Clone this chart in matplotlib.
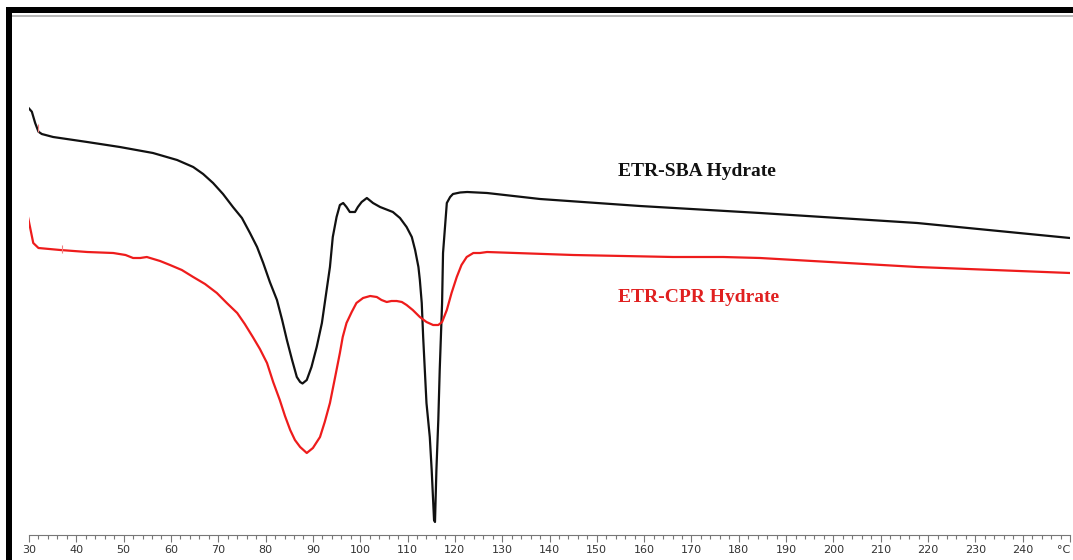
import matplotlib
matplotlib.use('Agg')
import matplotlib.pyplot as plt
from matplotlib.patches import Rectangle
from matplotlib.ticker import MultipleLocator

# DSC curves, temperature in °C, heat flow in arbitrary units (endo down)
sba_temp = [29.85, 30.6, 31.3, 32.0, 32.7, 35.1, 42.3, 49.2, 56.2, 61.3,
            64.7, 66.8, 68.9, 71.0, 73.1, 75.0, 76.7, 78.2, 79.5, 80.9,
            82.4, 83.5, 84.5, 85.6, 86.6, 87.3, 87.8, 88.7, 89.7, 90.8,
            91.9, 92.9, 93.6, 94.2, 95.0, 95.7, 96.4, 97.1, 97.8, 98.9,
            99.5, 100.3, 101.4, 102.7, 104.2, 106.9, 108.4, 109.8, 110.9, 111.6,
            112.3, 112.6, 113.0, 113.3, 114.0, 114.7, 115.1, 115.6, 115.8, 116.1,
            116.5, 116.8, 117.3, 117.5, 118.3, 119.0, 119.6, 121.1, 122.6, 126.8,
            138.0, 159.1, 184.5, 217.7, 250.0]
sba_hf = [-1.077, -1.117, -1.23, -1.317, -1.34, -1.37, -1.42, -1.47, -1.53, -1.60,
          -1.67, -1.74, -1.83, -1.94, -2.07, -2.18, -2.33, -2.47, -2.63, -2.82,
          -3.00, -3.20, -3.40, -3.60, -3.77, -3.82, -3.835, -3.80, -3.67, -3.47,
          -3.23, -2.90, -2.67, -2.37, -2.17, -2.05, -2.03, -2.07, -2.12, -2.12,
          -2.07, -2.02, -1.98, -2.03, -2.07, -2.12, -2.18, -2.27, -2.37, -2.50,
          -2.67, -2.80, -3.03, -3.37, -4.03, -4.37, -4.70, -5.20, -5.22, -4.70,
          -4.20, -3.70, -3.03, -2.53, -2.03, -1.97, -1.94, -1.925, -1.92, -1.93,
          -1.99, -2.06, -2.13, -2.23, -2.38]

cpr_temp = [29.7, 30.2, 30.9, 32.0, 36.6, 42.3, 47.8, 50.4, 52.0, 53.5,
            54.9, 57.7, 59.8, 62.3, 64.7, 67.2, 69.7, 71.8, 74.0, 75.6,
            77.3, 78.8, 80.3, 81.6, 83.0, 84.1, 85.2, 86.2, 87.3, 88.7,
            90.0, 91.5, 92.5, 93.6, 94.7, 95.7, 96.3, 97.1, 98.2, 99.2,
            100.6, 102.1, 103.5, 104.5, 105.6, 106.6, 107.7, 108.8, 109.8, 111.1,
            112.6, 114.0, 115.4, 116.5, 117.3, 118.3, 119.3, 120.4, 121.4, 122.5,
            123.9, 125.3, 126.8, 145.0, 166.1, 176.7, 184.5, 217.7, 250.0]
cpr_hf = [-2.15, -2.267, -2.43, -2.48, -2.50, -2.52, -2.53, -2.55, -2.58, -2.58,
          -2.57, -2.61, -2.65, -2.70, -2.77, -2.84, -2.93, -3.03, -3.13, -3.24,
          -3.37, -3.49, -3.63, -3.82, -4.00, -4.16, -4.30, -4.40, -4.47, -4.53,
          -4.48, -4.37, -4.22, -4.03, -3.77, -3.53, -3.37, -3.23, -3.12, -3.03,
          -2.98, -2.96, -2.97, -3.00, -3.02, -3.01, -3.01, -3.02, -3.05, -3.10,
          -3.17, -3.22, -3.25, -3.25, -3.22, -3.10, -2.93, -2.77, -2.65, -2.57,
          -2.53, -2.53, -2.52, -2.55, -2.57, -2.57, -2.58, -2.67, -2.73]

# small red onset markers drawn by the instrument software
mark_temp = [29.6, 31.9, 29.6, 36.9]
mark_hf = [-1.07, -1.28, -2.13, -2.49]

tick_vals = list(range(30, 251, 10))
tick_text = [str(t) for t in range(30, 241, 10)] + ['°C']

fig = plt.figure(figsize=(10.73, 5.60), dpi=100)
ax = fig.add_axes([29 / 1073, 25 / 560, 1041 / 1073, 518 / 560])

ax.plot(sba_temp, sba_hf, color='#111111', lw=1.6, solid_joinstyle='round')
ax.plot(cpr_temp, cpr_hf, color='#ee1c1c', lw=1.6, solid_joinstyle='round')
ax.plot(mark_temp, mark_hf, ls='none', marker='|', ms=6, mew=0.8, color='#f08080')

ax.text(171.2, -1.71, 'ETR-SBA Hydrate', ha='center', va='center',
        fontfamily='Liberation Serif', fontweight='bold', fontsize=14, color='#111111')
ax.text(171.4, -2.97, 'ETR-CPR Hydrate', ha='center', va='center',
        fontfamily='Liberation Serif', fontweight='bold', fontsize=14, color='#e02020')

ax.set_xlim(30, 250)
ax.set_ylim(-5.35, -0.17)
ax.set_xticks(tick_vals)
ax.set_xticklabels(tick_text)
ax.get_xticklabels()[-1].set_horizontalalignment('right')
ax.xaxis.set_minor_locator(MultipleLocator(2))
ax.tick_params(axis='x', which='major', length=5, width=0.8, color='#777777',
               labelsize=8, labelcolor='#333333', pad=2)
ax.tick_params(axis='x', which='minor', length=3, width=0.8, color='#777777')
ax.set_yticks([])
for s in ['left', 'right', 'top']:
    ax.spines[s].set_visible(False)
ax.spines['bottom'].set_color('#777777')
ax.spines['bottom'].set_linewidth(0.8)
ax.patch.set_alpha(0)

# window frame: thick black border left and top, thin gray line below it
fig.add_artist(Rectangle((6 / 1073, 0), 6 / 1073, 553 / 560, transform=fig.transFigure,
                         color='black', lw=0))
fig.add_artist(Rectangle((6 / 1073, 547 / 560), 1, 6 / 560, transform=fig.transFigure,
                         color='black', lw=0))
fig.add_artist(Rectangle((12 / 1073, 543 / 560), 1, 2 / 560, transform=fig.transFigure,
                         color='#b8b8b8', lw=0))

fig.savefig('out.png', dpi=100)
